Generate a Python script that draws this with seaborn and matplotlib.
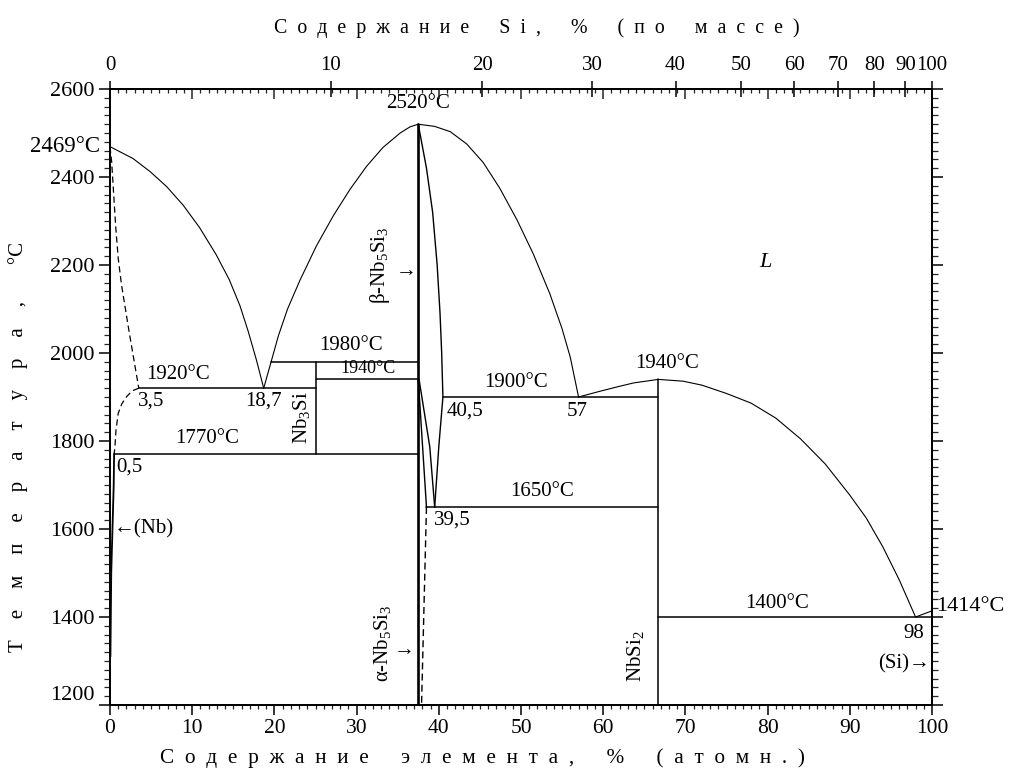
import matplotlib
matplotlib.use("Agg")
import matplotlib.pyplot as plt
import seaborn as sns
import numpy as np

# ---- Nb–Si phase diagram: composition in at.% Si, temperature in °C ----

# liquidus: Nb side down to the 1920 °C eutectic
liq_nb_x = [0, 2.8, 4.9, 6.9, 8.9, 10.9, 12.9, 14.5, 15.8, 16.8, 17.8, 18.7]
liq_nb_t = [2469, 2442, 2412, 2378, 2336, 2285, 2224, 2167, 2108, 2050, 1985, 1920]
# liquidus: eutectic up to the Nb5Si3 maximum
liq_a_x = [18.7, 19.6, 20.5, 21.6, 23.1, 25.1, 27.2, 29.2, 31.2, 33.2, 35.3, 36.5, 37.5]
liq_a_t = [1920, 1980, 2040, 2100, 2165, 2243, 2313, 2372, 2424, 2467, 2500, 2514, 2520]
# liquidus: Nb5Si3 maximum down to the 1900 °C eutectic
liq_b_x = [37.5, 39.5, 41.4, 43.4, 45.4, 47.4, 49.5, 51.5, 53.5, 55.0, 56.0, 57.0]
liq_b_t = [2520, 2515, 2503, 2475, 2433, 2375, 2303, 2225, 2135, 2055, 1990, 1900]
# liquidus: eutectic up to NbSi2
liq_c_x = [57.0, 59.6, 61.7, 63.7, 66.7]
liq_c_t = [1900, 1913, 1923, 1932, 1940]
# liquidus: NbSi2 down to the Si-side eutectic
liq_d_x = [66.7, 69.7, 72.0, 75.0, 78.0, 81.0, 84.0, 87.0, 90.0, 92.0, 94.0, 96.0, 98.0]
liq_d_t = [1940, 1936, 1927, 1908, 1886, 1852, 1805, 1748, 1677, 1625, 1560, 1485, 1400]
liq_si_x = [98.0, 100.0]
liq_si_t = [1400, 1414]

# (Nb) solidus and solvus
nb_sol_x = [0, 0.2, 0.45, 0.7, 1.0, 1.4, 1.9, 2.4, 2.95, 3.5]
nb_sol_t = [2469, 2435, 2360, 2285, 2215, 2155, 2097, 2040, 1980, 1920]
nb_solv_x = [3.5, 2.7, 2.03, 1.45, 1.0, 0.73, 0.6, 0.5]
nb_solv_t = [1920, 1914, 1901, 1885, 1863, 1825, 1787, 1770]
nb_low_x = [0.5, 0.45, 0.3, 0.15, 0.05]
nb_low_t = [1770, 1700, 1600, 1500, 1310]

# Nb5Si3 homogeneity boundaries
beta_r_x = [37.5, 38.5, 39.25, 39.8, 40.15, 40.35, 40.5, 40.0, 39.5]
beta_r_t = [2520, 2420, 2320, 2200, 2090, 2000, 1900, 1787, 1650]
beta_l_x = [37.6, 38.9, 39.5]
beta_l_t = [1940, 1787, 1650]
alpha_r_x = [37.5, 38.5]
alpha_r_t = [1940, 1650]
alpha_low_x = [38.5, 37.9]
alpha_low_t = [1650, 1200]

# invariant isotherms
iso_t = [1980, 1940, 1920, 1900, 1770, 1650, 1400]
iso_x0 = [19.6, 25.0, 3.5, 40.5, 0.5, 38.5, 66.7]
iso_x1 = [37.5, 37.5, 25.0, 66.7, 37.5, 66.7, 100.0]

# compounds: composition, top and bottom temperature
comp_x = [25.0, 37.5, 66.7]
comp_top = [1980, 2520, 1940]
comp_bot = [1770, 1200, 1200]
comp_lw = [1.1, 1.9, 1.1]

# axis ticks
t_ticks = list(range(1200, 2601, 200))
at_ticks = list(range(0, 101, 10))
wt_ticks = [0, 10, 20, 30, 40, 50, 60, 70, 80, 90, 100]
M_SI, M_NB = 28.086, 92.906

sns.set_theme(style="white")
plt.rcParams["font.family"] = ["Liberation Serif", "DejaVu Serif"]
plt.rcParams["mathtext.fontset"] = "custom"
plt.rcParams["mathtext.rm"] = "Liberation Serif"
plt.rcParams["mathtext.it"] = "Liberation Serif:italic"
plt.rcParams["axes.edgecolor"] = "black"
plt.rcParams["text.color"] = "black"

fig = plt.figure(figsize=(10.09, 7.69), dpi=100)
ax = fig.add_axes([0.10902, 0.08322, 0.81467, 0.80104])


def draw(x, t, lw=0.8, ls="-"):
    sns.lineplot(x=x, y=t, ax=ax, sort=False, estimator=None, color="black",
                 lw=lw, linestyle=ls, legend=False)


dash = (0, (5, 3))
for xs, ts in [(liq_nb_x, liq_nb_t), (liq_a_x, liq_a_t), (liq_b_x, liq_b_t),
               (liq_c_x, liq_c_t), (liq_d_x, liq_d_t), (liq_si_x, liq_si_t)]:
    draw(xs, ts, lw=0.8)
draw(nb_sol_x, nb_sol_t, lw=0.9, ls=dash)
draw(nb_solv_x, nb_solv_t, lw=0.9, ls=dash)
draw(nb_low_x, nb_low_t, lw=1.3)
draw(beta_r_x, beta_r_t, lw=1.0)
draw(beta_l_x, beta_l_t, lw=1.0)
draw(alpha_r_x, alpha_r_t, lw=1.0)
draw(alpha_low_x, alpha_low_t, lw=1.0, ls=dash)
for t, x0, x1 in zip(iso_t, iso_x0, iso_x1):
    draw([x0, x1], [t, t], lw=1.1)
for x, top, bot, lw in zip(comp_x, comp_top, comp_bot, comp_lw):
    draw([x, x], [top, bot], lw=lw)

ax.set_xlim(0, 100)
ax.set_ylim(1200, 2600)
ax.set_xlabel("")
ax.set_ylabel("")
ax.set_xticks(at_ticks)
ax.set_xticks(range(0, 101), minor=True)
ax.set_yticks(t_ticks)
ax.set_yticks(range(1200, 2601, 20), minor=True)
ax.tick_params(axis="x", which="major", direction="out", length=7, width=1.1,
               labelsize=15.5, pad=3, colors="black")
ax.tick_params(axis="x", which="minor", direction="out", length=3, width=0.9, bottom=True)
ax.tick_params(axis="y", which="major", direction="out", length=8, width=1.1,
               labelsize=16, pad=3, left=True, right=True, colors="black")
ax.tick_params(axis="y", which="minor", direction="out", length=4, width=0.9,
               left=True, right=True)
for s in ax.spines.values():
    s.set_linewidth(1.3)
    s.set_color("black")
ax.get_yticklabels()[0].set_verticalalignment("bottom")

# at.% ticks mirrored on the top edge
tw = ax.twiny()
tw.set_xlim(0, 100)
tw.set_xticks(at_ticks)
tw.set_xticks(range(0, 101), minor=True)
tw.tick_params(axis="x", which="major", direction="in", length=7, width=1.1, labeltop=False)
tw.tick_params(axis="x", which="minor", direction="in", length=3, width=0.9)

# mass-% scale on top
tw2 = ax.twiny()
tw2.set_xlim(0, 100)
wt = np.array(wt_ticks, dtype=float)
wt_pos = 100 * (wt / M_SI) / (wt / M_SI + (100 - wt) / M_NB)
tw2.set_xticks(wt_pos)
tw2.set_xticklabels([str(v) for v in wt_ticks])
tw2.tick_params(axis="x", which="major", direction="inout", length=12, width=1.1,
                labelsize=15, pad=4, colors="black")
tw2.set_xticks([], minor=True)
for t2 in (tw, tw2):
    for s in t2.spines.values():
        s.set_linewidth(1.3)
        s.set_color("black")


def spaced(words, gap="  ", wgap="      "):
    return wgap.join(w if w in ("°C",) else gap.join(w) for w in words)


fig.text(0.532, 0.9636, spaced(["Содержание", "Si,", "%", "(по", "массе)"]),
         ha="center", va="center", fontsize=14.3)
fig.text(0.478, 0.0143, spaced(["Содержание", "элемента,", "%", "(атомн.)"]),
         ha="center", va="center", fontsize=15.3)
fig.text(0.0178, 0.4187, spaced(["Температура,", "°C"], gap="    ", wgap="       "),
         ha="center", va="center", rotation=90, fontsize=15)

fs = 15
txt = [
    (37.5, 2566, "2520°C", "center", fs),
    (8.3, 1952, "1920°C", "center", fs),
    (5.0, 1891, "3,5", "center", fs),
    (18.7, 1891, "18,7", "center", fs),
    (11.8, 1805, "1770°C", "center", fs),
    (0.8, 1740, "0,5", "left", fs),
    (0.5, 1600, "←(Nb)", "left", fs),
    (29.3, 2017, "1980°C", "center", fs),
    (31.4, 1964, "1940°C", "center", 13),
    (49.4, 1933, "1900°C", "center", fs),
    (41.0, 1868, "40,5", "left", fs),
    (56.8, 1868, "57", "center", fs),
    (67.8, 1977, "1940°C", "center", fs),
    (41.7, 1620, "39,5", "center", fs),
    (52.5, 1685, "1650°C", "center", fs),
    (81.2, 1430, "1400°C", "center", fs),
    (97.8, 1362, "98", "center", fs),
    (100.56, 1425, "1414°C", "left", 16),
    (99.8, 1294, "(Si)→", "right", fs),
    (36.0, 2185, "→", "center", fs),
    (35.8, 1323, "→", "center", fs),
]
for x, t, s, ha, size in txt:
    ax.text(x, t, s, ha=ha, va="center", fontsize=size, clip_on=False)

ax.text(-1.2, 2470, "2469°C", ha="right", va="center", fontsize=16.5, clip_on=False)
ax.text(79.7, 2205, "L", ha="center", va="center", fontsize=16, fontstyle="italic")
ax.text(23.3, 1852, "Nb$_3$Si", ha="center", va="center", fontsize=fs, rotation=90)
ax.text(32.8, 2200, "β-Nb$_5$Si$_3$", ha="center", va="center", fontsize=fs, rotation=90)
ax.text(33.2, 1341, "α-Nb$_5$Si$_3$", ha="center", va="center", fontsize=fs, rotation=90)
ax.text(63.9, 1311, "NbSi$_2$", ha="center", va="center", fontsize=fs, rotation=90)

fig.savefig("out.png", dpi=100, facecolor="white")
